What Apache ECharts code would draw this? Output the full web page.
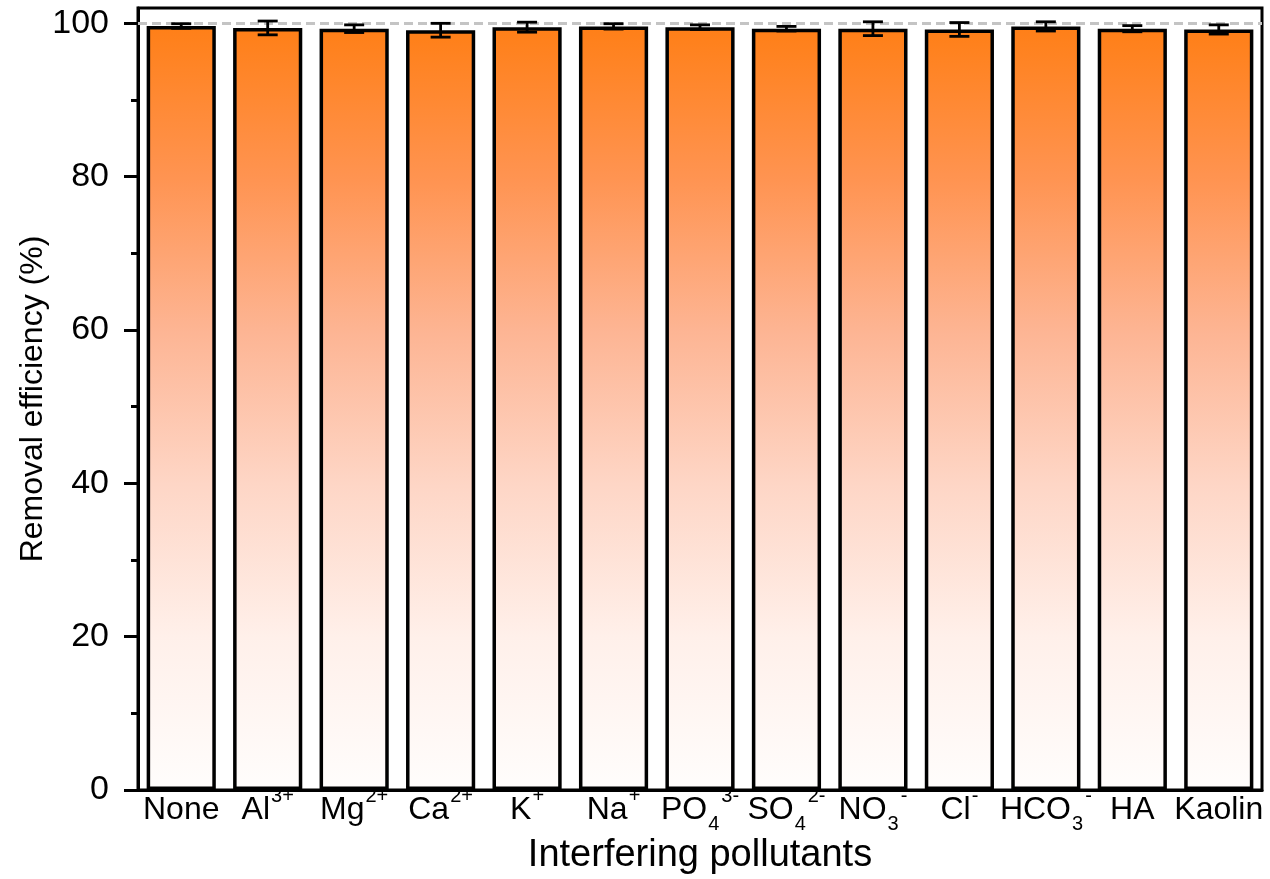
<!DOCTYPE html>
<html><head><meta charset="utf-8">
<script src="https://cdn.jsdelivr.net/npm/echarts@6/dist/echarts.min.js"></script>
<style>html,body{margin:0;padding:0;background:#fff}#c{width:1270px;height:879px}</style>
</head><body><div id="c"></div>
<script>
const categories = ['None', 'Al3+', 'Mg2+', 'Ca2+', 'K+', 'Na+', 'PO4 3-', 'SO4 2-', 'NO3 -', 'Cl-', 'HCO3 -', 'HA', 'Kaolin'];
const tickLabels = ['None', 'Al{sup|3+}', 'Mg{sup|2+}', 'Ca{sup|2+}', 'K{sup|+}', 'Na{sup|+}', 'PO{sub|4}{sup|3-}', 'SO{sub|4}{sup|2-}', 'NO{sub|3}{sup|-}', 'Cl{sup|-}', 'HCO{sub|3}{sup|-}', 'HA', 'Kaolin'];
const removalEfficiency = [99.65, 99.4, 99.3, 99.1, 99.5, 99.6, 99.5, 99.3, 99.3, 99.2, 99.6, 99.3, 99.2];
const errorValues = [0.3, 0.9, 0.5, 0.9, 0.65, 0.35, 0.3, 0.3, 0.9, 0.9, 0.6, 0.4, 0.6];
const yTicks = [0, 20, 40, 60, 80, 100];
const yMinorTicks = [10, 30, 50, 70, 90];
const referenceLevel = 100;

const FONT = 'Liberation Sans, Arial, Helvetica, sans-serif';
const chart = echarts.init(document.getElementById('c'), null, {renderer: 'canvas'});

const errData = categories.map((c, i) => [i, removalEfficiency[i], errorValues[i]]);

const option = {
  animation: false,
  backgroundColor: '#fff',
  textStyle: {fontFamily: FONT},
  grid: {left: 138, right: 8, top: 8, bottom: 89, show: true, borderColor: '#000', borderWidth: 3, backgroundColor: 'transparent', containLabel: false, outerBoundsMode: 'none'},
  xAxis: {
    type: 'category',
    data: categories,
    axisLine: {lineStyle: {color: '#000', width: 3}},
    axisTick: {show: false},
    axisLabel: {
      interval: 0,
      color: '#000',
      fontFamily: FONT,
      fontSize: 32,
      margin: 20,
      verticalAlign: 'middle',
      formatter: (v, i) => tickLabels[i],
      rich: {
        sup: {fontSize: 20, fontFamily: FONT, color: '#000', padding: [0, 0, 28, 1]},
        sub: {fontSize: 20, fontFamily: FONT, color: '#000', padding: [28, 1, 0, 1]}
      }
    },
    name: 'Interfering pollutants',
    nameLocation: 'middle',
    nameGap: 47,
    nameMoveOverlap: false,
    nameTextStyle: {fontSize: 38, color: '#000', fontFamily: FONT}
  },
  yAxis: [{
    type: 'value',
    min: 0,
    max: 102,
    interval: 20,
    position: 'left',
    axisLine: {show: true, lineStyle: {color: '#000', width: 3}},
    axisTick: {show: true, inside: false, length: 14, customValues: yTicks, lineStyle: {color: '#000', width: 3}},
    axisLabel: {customValues: yTicks, color: '#000', fontSize: 34, margin: 29, fontFamily: FONT},
    splitLine: {show: false},
    name: 'Removal efficiency (%)',
    nameLocation: 'middle',
    nameGap: 89,
    nameMoveOverlap: false,
    nameTextStyle: {fontSize: 32, color: '#000', fontFamily: FONT}
  }, {
    type: 'value',
    min: 0,
    max: 102,
    interval: 20,
    position: 'left',
    axisLine: {show: false},
    axisTick: {show: true, inside: false, length: 7, customValues: yMinorTicks, lineStyle: {color: '#000', width: 3}},
    axisLabel: {show: false},
    splitLine: {show: false}
  }],
  series: [{
    type: 'bar',
    data: removalEfficiency,
    barCategoryGap: '20%',
    itemStyle: {
      color: new echarts.graphic.LinearGradient(0, 0, 0, 1, [
        {offset: 0, color: '#ff7f17'},
        {offset: 0.2, color: '#ff9452'},
        {offset: 0.4, color: '#fdb594'},
        {offset: 0.6, color: '#fed6c6'},
        {offset: 0.8, color: '#fff0ea'},
        {offset: 1, color: '#fffdfc'}
      ]),
      borderColor: '#000',
      borderWidth: 3.5
    },
    markLine: {
      silent: true,
      symbol: 'none',
      label: {show: false},
      lineStyle: {type: [9, 5], color: '#c4c4c4', width: 3},
      data: [{yAxis: referenceLevel}]
    },
    z: 2
  }, {
    type: 'custom',
    data: errData,
    z: 5,
    renderItem: (params, api) => {
      const x = api.value(0), v = api.value(1), e = api.value(2);
      const hi = api.coord([x, v + e]);
      const lo = api.coord([x, v - e]);
      const hw = 10;
      const st = {stroke: '#000', lineWidth: 2.8};
      return {type: 'group', children: [
        {type: 'line', shape: {x1: hi[0], y1: hi[1], x2: lo[0], y2: lo[1]}, style: st},
        {type: 'line', shape: {x1: hi[0] - hw, y1: hi[1], x2: hi[0] + hw, y2: hi[1]}, style: st},
        {type: 'line', shape: {x1: lo[0] - hw, y1: lo[1], x2: lo[0] + hw, y2: lo[1]}, style: st}
      ]};
    }
  }]
};
chart.setOption(option);
</script>
</body></html>
